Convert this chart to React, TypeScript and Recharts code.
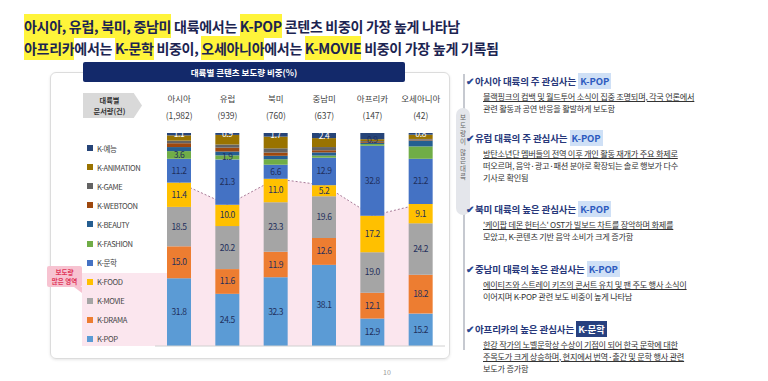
import { Area, Bar, ComposedChart, LabelList, ReferenceLine, XAxis, YAxis } from 'recharts'

const continents = ['아시아', '유럽', '북미', '중남미', '아프리카', '오세아니아']
const docCounts = ['(1,982)', '(939)', '(760)', '(637)', '(147)', '(42)']

// stacked bottom -> top
const kpop = [31.8, 24.5, 32.3, 38.1, 12.9, 15.2]
const kdrama = [15.0, 11.6, 11.9, 12.6, 12.1, 18.2]
const kmovie = [18.5, 20.2, 23.3, 19.6, 19.0, 24.2]
const kfood = [11.4, 10.0, 11.0, 5.2, 17.2, 9.1]
const kliterature = [11.2, 21.3, 6.6, 12.9, 32.8, 21.2]
const kfashion = [3.6, 1.9, 2.6, 1.0, 0.8, 5.8]
const kbeauty = [1.9, 1.8, 1.6, 1.5, 0.5, 2.8]
const kwebtoon = [1.8, 1.8, 1.5, 1.0, 0.4, 0.4]
const kgame = [1.2, 1.5, 2.0, 1.5, 0.5, 0.3]
const kanimation = [2.5, 4.5, 5.5, 4.2, 0.9, 2.0]
const kvariety = [1.1, 0.9, 1.7, 2.4, 2.9, 0.8]

const seriesKeys = ['kpop', 'kdrama', 'kmovie', 'kfood', 'kliterature', 'kfashion', 'kbeauty', 'kwebtoon', 'kgame', 'kanimation', 'kvariety']
const seriesNames = ['K-POP', 'K-DRAMA', 'K-MOVIE', 'K-FOOD', 'K-문학', 'K-FASHION', 'K-BEAUTY', 'K-WEBTOON', 'K-GAME', 'K-ANIMATION', 'K-예능']
const seriesValues = [kpop, kdrama, kmovie, kfood, kliterature, kfashion, kbeauty, kwebtoon, kgame, kanimation, kvariety]
const seriesColors = ['#5b9bd5', '#ed7d31', '#a5a5a5', '#ffc000', '#4472c4', '#70ad47', '#255e91', '#9e480e', '#636363', '#997300', '#264478']

// which small segments carry a value label
const allOn = [true, true, true, true, true, true]
const allOff = [false, false, false, false, false, false]
const fashionLabeled = [true, true, false, false, false, false]
const animationLabeled = [false, false, false, false, true, false]
const varietyLabeled = [true, true, true, true, false, true]
const labelMask = [allOn, allOn, allOn, allOn, allOn, fashionLabeled, allOff, allOff, allOff, animationLabeled, varietyLabeled]

const notes = [
  { head: '아시아 대륙의 주 관심사는 ', tag: 'K-POP', dark: false, body: ['블랙핑크의 컴백 및 월드투어 소식이 집중 조명되며, 각국 언론에서', '관련 활동과 공연 반응을 활발하게 보도함'] },
  { head: '유럽 대륙의 주 관심사는 ', tag: 'K-POP', dark: false, body: ['방탄소년단 멤버들의 전역 이후 개인 활동 재개가 주요 화제로', '떠오르며, 음악·광고·패션 분야로 확장되는 솔로 행보가 다수', '기사로 확인됨'] },
  { head: '북미 대륙의 높은 관심사는 ', tag: 'K-POP', dark: false, body: ["'케이팝 데몬 헌터스' OST가 빌보드 차트를 장악하며 화제를", '모았고, K-콘텐츠 기반 음악 소비가 크게 증가함'] },
  { head: '중남미 대륙의 높은 관심사는 ', tag: 'K-POP', dark: false, body: ['에이티즈와 스트레이 키즈의 콘서트 유치 및 팬 주도 행사 소식이', '이어지며 K-POP 관련 보도 비중이 높게 나타남'] },
  { head: '아프리카의 높은 관심사는 ', tag: 'K-문학', dark: true, body: ['한강 작가의 노벨문학상 수상이 기점이 되어 한국 문학에 대한', '주목도가 크게 상승하며, 현지에서 번역·출간 및 문학 행사 관련', '보도가 증가함'] },
]
const noteTops = [74, 131, 202, 262, 322]

const FONT = '"Noto Sans CJK KR", "Noto Sans", sans-serif'
const NAVY = '#1c2451'

const rows = continents.map((name, i) => {
  const row: Record<string, string | number> = { name, count: docCounts[i] }
  seriesKeys.forEach((key, s) => { row[key] = seriesValues[s][i] })
  row.heavy = kpop[i] + kdrama[i] + kmovie[i] + kfood[i]
  return row
})

function ContinentTick(props: any) {
  const { x, y, payload, index } = props
  const i = payload?.index ?? index ?? 0
  return (
    <g fontFamily={FONT} fontSize={8.5} fill="#444" textAnchor="middle">
      <text x={x} y={Number(y) - 23}>{payload.value}</text>
      <text x={x} y={Number(y) - 6}>{docCounts[i]}</text>
    </g>
  )
}

function segmentLabel(s: number) {
  return (props: any) => {
    const { x, y, width, height, value, index } = props
    if (!labelMask[s][index]) return null
    return (
      <text
        x={Number(x) + Number(width) / 2}
        y={Number(y) + Number(height) / 2}
        dy="0.35em"
        textAnchor="middle"
        fontFamily={FONT}
        fontSize={8.5}
        letterSpacing={-0.4}
        fill={s === 10 ? '#ffffff' : '#1f2f5c'}
      >
        {Number(value).toFixed(1)}
      </text>
    )
  }
}

function Highlight({ children }: { children: string }) {
  return <span style={{ background: '#fff43a', padding: '2px 0' }}>{children}</span>
}

export default function App() {
  return (
    <div style={{ position: 'fixed', left: 0, top: 0, width: 768, height: 381, background: '#ffffff', overflow: 'hidden', fontFamily: FONT }}>
      {/* headline */}
      <div style={{ position: 'absolute', left: 24, top: 15, fontSize: 14, fontWeight: 700, color: NAVY, lineHeight: '22px', whiteSpace: 'nowrap', letterSpacing: -0.3 }}>
        <div><Highlight>아시아, 유럽, 북미, 중남미</Highlight> 대륙에서는 <Highlight>K-POP</Highlight> 콘텐츠 비중이 가장 높게 나타남</div>
        <div><Highlight>아프리카</Highlight>에서는 <Highlight>K-문학</Highlight> 비중이, <Highlight>오세아니아</Highlight>에서는 <Highlight>K-MOVIE</Highlight> 비중이 가장 높게 기록됨</div>
      </div>

      {/* chart panel */}
      <div style={{ position: 'absolute', left: 50, top: 72, width: 398, height: 285, border: '1px solid #dcdcdc', borderRadius: 6, boxShadow: '0 1px 3px rgba(0,0,0,0.10)' }} />
      <div style={{ position: 'absolute', left: 83, top: 62, width: 322, height: 20, background: '#13296a', borderRadius: 2, color: '#fff', fontSize: 8.5, fontWeight: 700, textAlign: 'center', lineHeight: '20px' }}>
        대륙별 콘텐츠 보도량 비중(%)
      </div>
      <div style={{ position: 'absolute', left: 83, top: 93, width: 59, height: 25, background: '#d9d9d9', clipPath: 'polygon(0 0, 86% 0, 100% 50%, 86% 100%, 0 100%)', fontSize: 7.2, fontWeight: 700, color: '#333', textAlign: 'center', lineHeight: '11px', paddingTop: 2, boxSizing: 'border-box', paddingRight: 6 }}>
        대륙별<br />문서량(건)
      </div>

      {/* heavy-coverage zone behind the legend */}
      <div style={{ position: 'absolute', left: 82, top: 273, width: 86, height: 73, background: '#fbe6ee' }} />
      <div style={{ position: 'absolute', left: 47, top: 266, width: 35, height: 21, background: '#f7c3d1', borderRadius: 2, color: '#e0365a', fontSize: 6.5, fontWeight: 700, textAlign: 'center', lineHeight: '9px', paddingTop: 1.5, boxSizing: 'border-box' }}>
        보도량<br />많은 영역
      </div>
      <div style={{ position: 'absolute', left: 74, top: 287, width: 0, height: 0, borderLeft: '8px solid transparent', borderTop: '6px solid #f7c3d1' }} />

      {/* legend */}
      <div style={{ position: 'absolute', left: 87, top: 138.5 }}>
        {seriesNames.map((n, s) => s).reverse().map((s) => (
          <div key={seriesKeys[s]} style={{ height: 19.1, display: 'flex', alignItems: 'center', fontSize: 7.6, color: '#444', letterSpacing: -0.4 }}>
            <span style={{ width: 6, height: 6, background: seriesColors[s], marginRight: 4, display: 'inline-block' }} />
            {seriesNames[s]}
          </div>
        ))}
      </div>

      <div style={{ position: 'absolute', left: 150, top: 90 }}>
        <ComposedChart width={300} height={260} data={rows} margin={{ top: 3, right: 5, bottom: 4, left: 5 }} barCategoryGap={0}>
          <XAxis dataKey="name" orientation="top" height={40} axisLine={false} tickLine={false} interval={0} tick={<ContinentTick />} />
          <YAxis hide domain={[0, 100]} />
          <Area
            type="linear"
            dataKey="heavy"
            fill="#fbe6ee"
            fillOpacity={1}
            stroke="#a87b98"
            strokeWidth={1}
            strokeDasharray="2 2"
            dot={false}
            activeDot={false}
            isAnimationActive={false}
          />
          {seriesKeys.map((key, s) => (
            <Bar key={key} dataKey={key} name={seriesNames[s]} stackId="a" fill={seriesColors[s]} barSize={24} isAnimationActive={false}>
              <LabelList dataKey={key} content={segmentLabel(s)} />
            </Bar>
          ))}
          <ReferenceLine y={0} stroke="#d0d0d0" strokeWidth={1} />
        </ComposedChart>
      </div>

      <div style={{ position: 'absolute', left: 383, top: 367, fontSize: 7, color: '#999' }}>10</div>

      {/* right commentary */}
      <div style={{ position: 'absolute', left: 463, top: 74, width: 1.5, height: 276, background: '#c6c9d0' }} />
      <div style={{ position: 'absolute', left: 456, top: 108, width: 14, height: 107, background: '#e4e6eb', borderRadius: 7 }} />
      <div style={{ position: 'absolute', left: 459, top: 114, writingMode: 'vertical-rl', fontSize: 6.5, color: '#666', letterSpacing: 1.5, lineHeight: '8px' }}>
        보도량이 많은대륙
      </div>

      {notes.map((note, i) => (
        <div key={note.head} style={{ position: 'absolute', left: 466, top: noteTops[i], whiteSpace: 'nowrap' }}>
          <div style={{ fontSize: 9.5, fontWeight: 700, color: '#27377a', lineHeight: '14px', letterSpacing: -0.1 }}>
            <span style={{ color: '#2b4a94', fontSize: 10, marginRight: 1 }}>✔</span>
            {note.head}
            <span style={{ background: note.dark ? '#27407f' : '#cfe0f6', color: note.dark ? '#ffffff' : '#2d5bbf', padding: '1px 2px' }}>{note.tag}</span>
          </div>
          <div style={{ marginLeft: 17, marginTop: 2, fontSize: 8.2, color: '#333', lineHeight: '12px', letterSpacing: -0.25 }}>
            {note.body.map((line, j) => (
              <div key={j} style={{ textDecoration: j === 0 || (i === 4 && j === 1) ? 'underline' : 'none' }}>{line}</div>
            ))}
          </div>
        </div>
      ))}
    </div>
  )
}
